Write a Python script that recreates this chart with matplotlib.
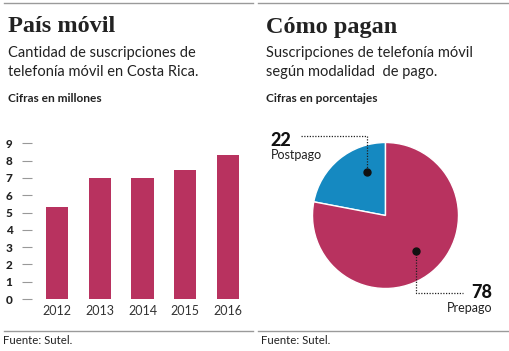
import matplotlib
matplotlib.use("Agg")
import matplotlib.pyplot as plt
from matplotlib.lines import Line2D

years = ["2012", "2013", "2014", "2015", "2016"]
subs_millions = [5.3, 7.0, 7.0, 7.45, 8.3]
y_ticks = [0, 1, 2, 3, 4, 5, 6, 7, 8, 9]

pay_labels = ["Postpago", "Prepago"]
pay_shares = [22, 78]

CRIMSON = "#B8325F"
BLUE = "#1589C1"
W, H = 510, 351

SANS = "Lato"
SERIF = "Liberation Serif"


def fx(px):
    return px / W


def fy(py):
    return 1 - py / H


def main():
    fig = plt.figure(figsize=(W / 100, H / 100), dpi=100)
    fig.patch.set_facecolor("white")

    # top and bottom rules
    for x0, x1 in [(4, 253), (258, 508)]:
        fig.add_artist(Line2D([fx(x0), fx(x1)], [fy(3), fy(3)], color="#9a9a9a", lw=1))
        fig.add_artist(Line2D([fx(x0), fx(x1)], [fy(331), fy(331)], color="#9a9a9a", lw=1))

    # headers
    for x, title, sub1, sub2, unit in [
        (8, "País móvil", "Cantidad de suscripciones de", "telefonía móvil en Costa Rica.", "Cifras en millones"),
        (266, "Cómo pagan", "Suscripciones de telefonía móvil", "según modalidad  de pago.", "Cifras en porcentajes"),
    ]:
        fig.text(fx(x), fy(32.5), title, family=SERIF, weight="bold", size=17.5, color="#222222", va="baseline")
        fig.text(fx(x), fy(57), sub1, family=SANS, size=10.5, color="#222222", va="baseline")
        fig.text(fx(x), fy(76), sub2, family=SANS, size=10.5, color="#222222", va="baseline")
        fig.text(fx(x), fy(102.5), unit, family=SANS, weight="bold", size=8.6, color="#222222", va="baseline")
        fig.text(fx(x - 5), fy(341), "Fuente: Sutel.", family=SANS, size=8.2, color="#222222", va="center")

    # bar chart
    left, right, bottom, top = 32, 250, 299, 140
    ax = fig.add_axes([fx(left), fy(bottom), fx(right - left), (bottom - top) / H])
    xs = list(range(len(years)))
    ax.bar(xs, subs_millions, width=0.515, color=CRIMSON)
    unit = (299 - 143.3) / 9
    spacing = 42.75
    ax.set_xlim((left - 57) / spacing, (right - 57) / spacing)
    ax.set_ylim(0, (bottom - top) / unit)
    ax.set_yticks(y_ticks)
    ax.set_yticklabels([str(t) for t in y_ticks], family=SANS, weight="black", size=8.5, color="#222222")
    ax.tick_params(axis="y", length=7, width=0.8, color="#999999", pad=7)
    ax.set_xticks(xs)
    ax.set_xticklabels(years, family=SANS, size=9, color="#333333")
    ax.tick_params(axis="x", length=0, pad=4)
    for s in ax.spines.values():
        s.set_visible(False)
    ax.patch.set_alpha(0)

    # pie chart
    cx, cy, r = 385.5, 215.5, 73
    pax = fig.add_axes([fx(cx - r), fy(cy + r), 2 * r / W, 2 * r / H])
    pax.pie(pay_shares, colors=[BLUE, CRIMSON], startangle=90, counterclock=True,
            wedgeprops=dict(edgecolor="white", linewidth=1))
    pax.set_xlim(-1, 1)
    pax.set_ylim(-1, 1)
    pax.set_aspect("auto")

    def d(px, py):
        return (px - cx) / r, (cy - py) / r

    # Postpago leader
    p1 = [d(301, 135.7), d(367, 135.7), d(367, 172.3)]
    pax.plot([p[0] for p in p1], [p[1] for p in p1], color="#222222", lw=0.9, ls=(0, (1, 1.2)), clip_on=False)
    pax.plot(*p1[-1], "o", color="#111111", ms=5, clip_on=False)
    fig.text(fx(270), fy(146), str(pay_shares[0]), family=SANS, weight="black", size=13, color="#111111", va="baseline")
    fig.text(fx(271), fy(159), pay_labels[0], family=SANS, size=9, color="#222222", va="baseline")

    # Prepago leader
    p2 = [d(416, 250.7), d(416, 293.3), d(463, 293.3)]
    pax.plot([p[0] for p in p2], [p[1] for p in p2], color="#222222", lw=0.9, ls=(0, (1, 1.2)), clip_on=False)
    pax.plot(*p2[0], "o", color="#111111", ms=5, clip_on=False)
    fig.text(fx(492), fy(297.5), str(pay_shares[1]), family=SANS, weight="black", size=13, color="#111111",
             va="baseline", ha="right")
    fig.text(fx(492), fy(312.5), pay_labels[1], family=SANS, size=9, color="#222222", va="baseline", ha="right")

    fig.savefig("out.png", dpi=100, facecolor="white")


if __name__ == "__main__":
    main()
